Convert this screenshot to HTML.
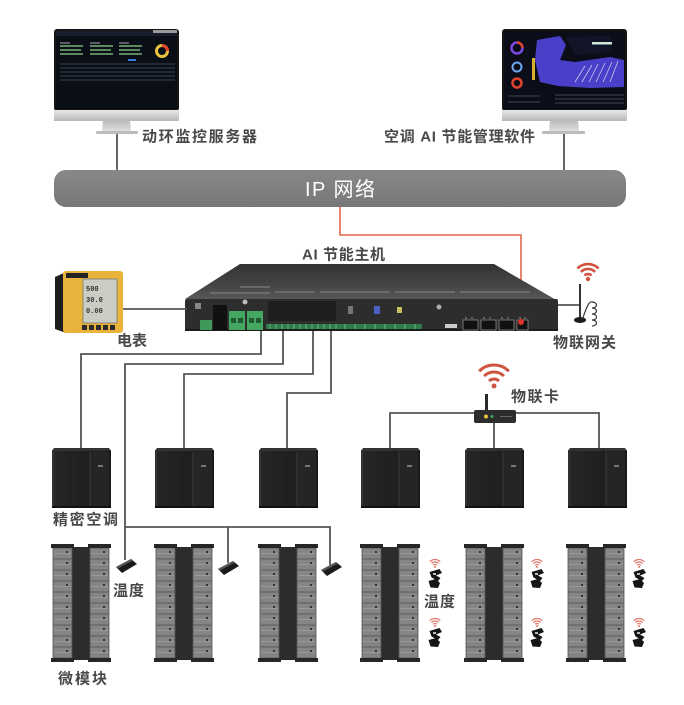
<!DOCTYPE html>
<html><head><meta charset="utf-8"><style>
html,body{margin:0;padding:0;background:#fff;}
svg{display:block}
.lb{font-family:"Liberation Sans","Noto Sans CJK SC",sans-serif;fill:#484848;font-weight:bold;font-size:15px;dominant-baseline:central}
.sm{font-family:"Liberation Mono","Noto Sans CJK SC",monospace;fill:#333;font-size:7px;font-weight:bold}
</style></head><body>
<svg width="684" height="705" viewBox="0 0 684 705" xmlns="http://www.w3.org/2000/svg">
<defs>
 <linearGradient id="bez" x1="0" y1="0" x2="0" y2="1"><stop offset="0" stop-color="#e9e9e9"/><stop offset="1" stop-color="#b9b9b9"/></linearGradient>
 <linearGradient id="neck" x1="0" y1="0" x2="0" y2="1"><stop offset="0" stop-color="#bcbcbc"/><stop offset="1" stop-color="#dedede"/></linearGradient>
 <linearGradient id="hostTop" x1="0" y1="0" x2="0" y2="1"><stop offset="0" stop-color="#333"/><stop offset="0.6" stop-color="#464646"/><stop offset="1" stop-color="#5a5a5a"/></linearGradient>
 <linearGradient id="bar" x1="0" y1="0" x2="0" y2="1"><stop offset="0" stop-color="#888"/><stop offset="1" stop-color="#777"/></linearGradient>
 <linearGradient id="acg" x1="0" y1="0" x2="1" y2="0"><stop offset="0" stop-color="#262626"/><stop offset="1" stop-color="#1a1a1a"/></linearGradient>
 <g id="ac">
  <rect x="0" y="2" width="59" height="58" fill="url(#acg)"/>
  <polygon points="2,0 57,0 59,3 0,3" fill="#333"/>
  <rect x="0.5" y="3" width="1.5" height="56" fill="#353535"/>
  <rect x="39" y="4" width="18" height="55" fill="#252525"/>
  <line x1="38" y1="4" x2="38" y2="60" stroke="#404040" stroke-width="1"/>
  <rect x="46" y="17" width="5" height="2" fill="#777"/>
  <rect x="0" y="58" width="59" height="2" fill="#111"/>
 </g>
 <g id="rack">
  <rect x="21" y="3" width="18" height="113" fill="#2c2c2c"/>
  <rect x="2" y="4" width="19" height="110" fill="#858585" stroke="#555" stroke-width="0.8"/>
  <rect x="39" y="4" width="19" height="110" fill="#858585" stroke="#555" stroke-width="0.8"/>
  <path d="M2 15H21M2 26H21M2 37H21M2 48H21M2 59H21M2 70H21M2 81H21M2 92H21M2 103H21M39 15H58M39 26H58M39 37H58M39 48H58M39 59H58M39 70H58M39 81H58M39 92H58M39 103H58" stroke="#5a5a5a" stroke-width="1"/>
  <path d="M3 9.5H20M3 20.5H20M3 31.5H20M3 42.5H20M3 53.5H20M3 64.5H20M3 75.5H20M3 86.5H20M3 97.5H20M3 108.5H20M40 9.5H57M40 20.5H57M40 31.5H57M40 42.5H57M40 53.5H57M40 64.5H57M40 75.5H57M40 86.5H57M40 97.5H57M40 108.5H57" stroke="#a0a0a0" stroke-width="0.7"/>
  <path d="M16 7v2M16 18v2M16 29v2M16 40v2M16 51v2M16 62v2M16 73v2M16 84v2M16 95v2M16 106v2M53 7v2M53 18v2M53 29v2M53 40v2M53 51v2M53 62v2M53 73v2M53 84v2M53 95v2M53 106v2" stroke="#333" stroke-width="2"/>
  <rect x="0" y="0" width="23" height="4" fill="#262626"/>
  <rect x="37" y="0" width="23" height="4" fill="#262626"/>
  <rect x="0" y="114" width="23" height="4" fill="#262626"/>
  <rect x="37" y="114" width="23" height="4" fill="#262626"/>
 </g>
 <g id="tsw">
  <polygon points="1,8 16,0 22,5 7,14" fill="#1b1b1b"/>
  <polygon points="1,8 16,0 18,1.5 3,9.5" fill="#555"/>
 </g>
 <g id="ws">
  <path d="M6.23 7.23A2.5 2.5 0 0 1 9.77 7.23M4.46 5.46A5 5 0 0 1 11.54 5.46M2.7 3.7A7.5 7.5 0 0 1 13.3 3.7" fill="none" stroke="#e07a70" stroke-width="1.3"/>
  <circle cx="8" cy="9" r="1" fill="#e07a70"/>
  <path d="M2.5 14L12.5 11L15 15L9 17.5L13.5 20L11 23L4.5 19.5Z" fill="#151515"/>
  <path d="M1.5 23L9 21L13 25L11 30L3.5 29.5Z" fill="#151515"/>
  <rect x="6" y="15" width="3" height="2" fill="#bbb"/>
 </g>
</defs>

<!-- Left monitor -->
<rect x="54" y="29" width="125" height="82" rx="3" fill="#151515"/>
<rect x="56" y="31" width="121" height="78" fill="#0a0e16"/>
<rect x="56" y="31" width="121" height="5" fill="#171d2a"/>
<rect x="153" y="30" width="24" height="3" fill="#9a9a9a"/>
<g stroke="#8fd18a" stroke-width="1.2">
 <path d="M60 46H83M60 50H81M60 54H83M90 46H113M90 50H111M90 54H113M119 46H142M119 50H140M119 54H142"/>
</g>
<g stroke="#ddd" stroke-width="0.8"><path d="M60 43H70M90 43H100M119 43H129"/></g>
<circle cx="162" cy="51" r="5.5" fill="none" stroke="#e8c23a" stroke-width="3"/>
<path d="M162 45.5A5.5 5.5 0 0 1 167.5 51" fill="none" stroke="#e0432e" stroke-width="3"/>
<g stroke="#6f7a88" stroke-width="0.6"><path d="M60 64H175M60 68H175M60 72H175M60 76H175M60 80H175"/></g>
<rect x="128" y="59" width="8" height="2" fill="#3c7ad8"/>
<rect x="54" y="110" width="125" height="11" fill="url(#bez)"/>
<polygon points="103,121 130,121 131,131 102,131" fill="url(#neck)"/>
<rect x="96" y="131" width="42" height="3" rx="1" fill="#bcbcbc"/>
<line x1="117" y1="134" x2="117" y2="171" stroke="#666" stroke-width="2"/>
<text class="lb" x="142" y="137" textLength="115" lengthAdjust="spacing">动环监控服务器</text>

<!-- Right monitor -->
<rect x="502" y="29" width="125" height="82" rx="3" fill="#151515"/>
<rect x="504" y="31" width="121" height="78" fill="#0b0d18"/>
<circle cx="517" cy="48" r="5.5" fill="none" stroke="#7a4ae0" stroke-width="2.5"/>
<path d="M517 42.5A5.5 5.5 0 0 1 522.5 48" fill="none" stroke="#e0432e" stroke-width="2.5"/>
<circle cx="517" cy="67" r="4.5" fill="none" stroke="#6aa8f0" stroke-width="2"/>
<circle cx="517" cy="83" r="4.5" fill="none" stroke="#e0432e" stroke-width="2.5"/>
<polygon points="537,40 560,36 566,45 560,60 575,62 610,57 624,60 624,87 590,88 558,86 540,82 535,60" fill="#4a3fc8"/>
<polygon points="565,37 610,36 612,52 575,55" fill="#121428"/>
<g stroke="#c8c8f0" stroke-width="0.8"><path d="M575 82L585 66M582 82L592 65M589 82L598 64M596 82L605 63M603 82L612 62M610 82L618 61"/></g>
<rect x="592" y="42" width="20" height="2.5" fill="#cfe8d8"/>
<rect x="532" y="58" width="3" height="22" fill="#d8b030"/>
<g stroke="#7a8290" stroke-width="0.6"><path d="M555 95H624M555 99H624M555 103H624M508 96H540M508 102H540"/></g>
<rect x="502" y="110" width="125" height="11" fill="url(#bez)"/>
<polygon points="550,121 578,121 579,131 549,131" fill="url(#neck)"/>
<rect x="542" y="131" width="43" height="3" rx="1" fill="#bcbcbc"/>
<line x1="564" y1="134" x2="564" y2="171" stroke="#666" stroke-width="2"/>
<text class="lb" x="384" y="137" textLength="151" lengthAdjust="spacing">空调 AI 节能管理软件</text>

<!-- IP bar -->
<rect x="54" y="170" width="572" height="37" rx="12" fill="url(#bar)"/>
<text x="305" y="190" textLength="70" lengthAdjust="spacing" style="font-family:'Liberation Sans','Noto Sans CJK SC',sans-serif;font-size:20px;fill:#fff;dominant-baseline:central">IP 网络</text>

<!-- red link -->
<polyline points="340,207 340,235 521,235 521,322" fill="none" stroke="#e0664e" stroke-width="1.6"/>

<!-- AI host -->
<text class="lb" x="302" y="255" textLength="83" lengthAdjust="spacing">AI 节能主机</text>
<polygon points="240,264 494,264 558,301 185,299" fill="url(#hostTop)"/>
<g fill="#777" opacity="0.7">
 <rect x="210" y="292" width="60" height="2"/><rect x="275" y="291" width="40" height="2"/><rect x="320" y="291" width="70" height="2"/><rect x="395" y="291" width="60" height="2"/><rect x="460" y="291" width="70" height="2"/>
 <rect x="240" y="286" width="30" height="2"/>
</g>
<rect x="185" y="299" width="373" height="32" rx="2" fill="#2d2d2d"/>
<rect x="185" y="329" width="373" height="2" fill="#1c1c1c"/>
<rect x="195" y="303" width="6" height="6" fill="#888"/>
<rect x="200" y="320" width="12" height="10" fill="#3f9a5a"/>
<rect x="213" y="305" width="14" height="25" fill="#111"/>
<circle cx="245" cy="302" r="2.5" fill="#bbb"/>
<rect x="229" y="311" width="16" height="19" fill="#45a862"/>
<rect x="247" y="311" width="16" height="19" fill="#45a862"/>
<g fill="#1f5a33"><rect x="231" y="318" width="5" height="5"/><rect x="238" y="318" width="5" height="5"/><rect x="249" y="318" width="5" height="5"/><rect x="256" y="318" width="5" height="5"/></g>
<rect x="268" y="301" width="68" height="20" fill="#1f1f1f"/>
<rect x="266" y="324" width="156" height="5" fill="#2f7a4a"/>
<g stroke="#7fc08f" stroke-width="0.8"><path d="M270 324v5M276 324v5M282 324v5M288 324v5M294 324v5M300 324v5M306 324v5M312 324v5M318 324v5M324 324v5M330 324v5M336 324v5M345 324v5M355 324v5M365 324v5M375 324v5M385 324v5M395 324v5M405 324v5M415 324v5"/></g>
<rect x="348" y="306" width="5" height="8" fill="#777"/>
<rect x="374" y="306" width="6" height="8" fill="#4a5fbf"/>
<rect x="397" y="307" width="5" height="6" fill="#c9c060"/>
<circle cx="439" cy="307" r="2.5" fill="#aaa"/>
<rect x="445" y="324" width="12" height="4" fill="#ccc"/>
<g fill="#111" stroke="#8a8a8a" stroke-width="0.8"><rect x="463" y="320" width="15" height="10"/><rect x="481" y="320" width="15" height="10"/><rect x="499" y="320" width="15" height="10"/><rect x="517" y="320" width="11" height="10"/></g>
<g stroke="#999" stroke-width="1"><path d="M466 317v2M472 317v2M484 317v2M490 317v2M502 317v2M508 317v2M520 317v2M525 317v2"/></g>
<circle cx="521" cy="322" r="3" fill="#e0332a"/>

<!-- meter -->
<polygon points="55,277 66,272 66,333 55,329" fill="#1d1d1d"/>
<rect x="63" y="271" width="60" height="62" rx="3" fill="#e9b23a"/>
<rect x="66" y="273" width="22" height="5" fill="#222"/>
<rect x="83" y="279" width="34" height="44" fill="#c9cdc3" stroke="#777" stroke-width="0.8"/>
<text class="sm" x="86" y="291">500</text>
<text class="sm" x="86" y="302">30.0</text>
<text class="sm" x="86" y="313">0.00</text>
<g fill="#2a2a2a"><rect x="82" y="325" width="5" height="5"/><rect x="89" y="325" width="5" height="5"/><rect x="96" y="325" width="5" height="5"/><rect x="103" y="325" width="5" height="5"/><rect x="110" y="325" width="5" height="5"/></g>
<line x1="123" y1="309" x2="187" y2="309" stroke="#555" stroke-width="1.8"/>
<text class="lb" x="117" y="341" textLength="30" lengthAdjust="spacing">电表</text>

<!-- gateway -->
<line x1="558" y1="305" x2="580" y2="305" stroke="#555" stroke-width="1.8"/>
<line x1="580" y1="284" x2="580" y2="318" stroke="#333" stroke-width="2"/>
<ellipse cx="580" cy="320" rx="6" ry="3" fill="#1a1a1a"/>
<path d="M592 302c6 0 6 6 0 6c6 0 6 6 0 6c6 0 6 6 0 6c6 0 6 6 0 6M592 302c-4 -2 -8 14 -10 18" fill="none" stroke="#333" stroke-width="1.2"/>
<path d="M584.5 275.5A5 5 0 0 1 591.5 275.5M580.9 271.9A10 10 0 0 1 595.1 271.9M577.4 268.4A15 15 0 0 1 598.6 268.4" fill="none" stroke="#cf5540" stroke-width="2.6"/>
<circle cx="588" cy="279" r="2.2" fill="#cf5540"/>
<text class="lb" x="553" y="343" textLength="63" lengthAdjust="spacing">物联网关</text>

<!-- connectors from host -->
<g fill="none" stroke="#555" stroke-width="1.8">
 <polyline points="261,331 261,354 81,354 81,449"/>
 <polyline points="283,331 283,364 125,364 125,560"/>
 <polyline points="125,527 330,527 330,565"/>
 <line x1="228" y1="527" x2="228" y2="563"/>
 <polyline points="313,331 313,374 184,374 184,449"/>
 <polyline points="331,331 331,393 287,393 287,449"/>
 <polyline points="390,450 390,413 599,413 599,450"/>
 <line x1="494" y1="423" x2="494" y2="450"/>
</g>

<!-- IoT card -->
<path d="M489.05 381.05A7 7 0 0 1 498.95 381.05M484.1 376.1A14 14 0 0 1 503.9 376.1M479.15 371.15A21 21 0 0 1 508.85 371.15" fill="none" stroke="#cf5540" stroke-width="3"/>
<circle cx="494" cy="386" r="2.5" fill="#cf5540"/>
<rect x="485" y="394" width="3" height="17" fill="#2a2a2a"/>
<rect x="474" y="410" width="42" height="13" rx="2" fill="#2c2c2c"/>
<circle cx="486" cy="416.5" r="2" fill="#e2c33a"/>
<circle cx="492" cy="416.5" r="1.5" fill="#3aa860"/>
<rect x="500" y="416" width="12" height="1" fill="#666"/>
<text class="lb" x="511" y="397" textLength="48" lengthAdjust="spacing">物联卡</text>

<!-- AC units -->
<use href="#ac" x="52" y="448"/>
<use href="#ac" x="155" y="448"/>
<use href="#ac" x="259" y="448"/>
<use href="#ac" x="361" y="448"/>
<use href="#ac" x="465" y="448"/>
<use href="#ac" x="568" y="448"/>
<text class="lb" x="53" y="520" textLength="65" lengthAdjust="spacing">精密空调</text>

<!-- racks -->
<use href="#rack" x="51" y="544"/>
<use href="#rack" x="154" y="544"/>
<use href="#rack" x="258" y="544"/>
<use href="#rack" x="360" y="544"/>
<use href="#rack" x="464" y="544"/>
<use href="#rack" x="566" y="544"/>

<!-- wired sensors -->
<use href="#tsw" x="115" y="559"/>
<use href="#tsw" x="217" y="561"/>
<use href="#tsw" x="320" y="562"/>
<text class="lb" x="113" y="591" textLength="31" lengthAdjust="spacing">温度</text>

<!-- wireless sensors -->
<use href="#ws" x="427" y="558"/>
<use href="#ws" x="427" y="617"/>
<use href="#ws" x="529" y="558"/>
<use href="#ws" x="529" y="617"/>
<use href="#ws" x="631" y="558"/>
<use href="#ws" x="631" y="617"/>
<text class="lb" x="424" y="602" textLength="31" lengthAdjust="spacing">温度</text>

<text class="lb" x="58" y="679" textLength="49" lengthAdjust="spacing">微模块</text>
</svg>
</body></html>
